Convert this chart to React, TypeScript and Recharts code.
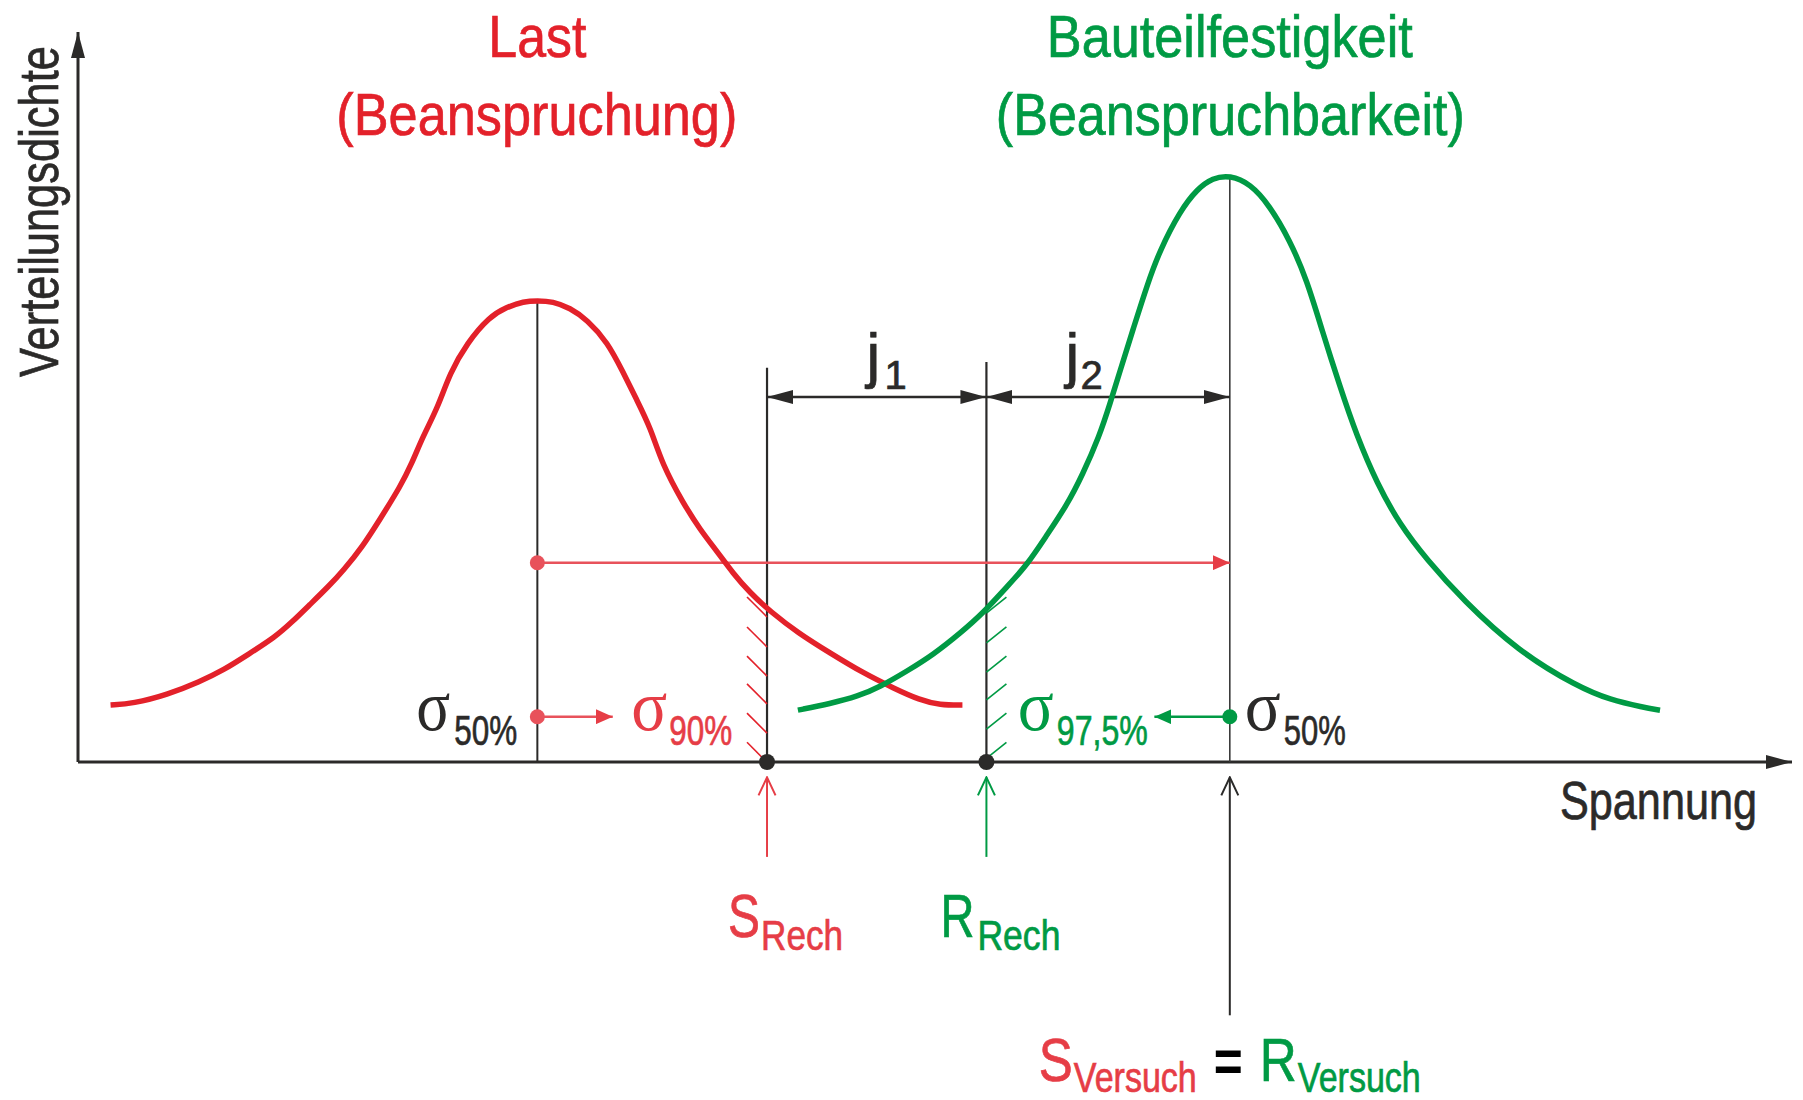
import React from 'react';
import { ComposedChart, Line, XAxis, YAxis, ReferenceLine, ReferenceDot } from 'recharts';

// canvas + calibration (px per unit, origin of the drawn axes)
const W = 1803;
const H = 1100;
const ORIGIN_X = 78;
const ORIGIN_Y = 762;
const XU = 17.14;
const YU = 7.3;
const X_DOMAIN = [-ORIGIN_X / XU, (W - ORIGIN_X) / XU];
const Y_DOMAIN = [-(H - ORIGIN_Y) / YU, ORIGIN_Y / YU];

// Last (Beanspruchung) density curve
const lastX = [1.9, 3.2, 5.2, 7.1, 8.5, 9.9, 11.5, 12.5, 13.5, 14.6, 15.5, 16.6, 17.6, 18.8, 19.5, 20.1, 21.0, 21.7, 22.7, 24.0, 25.0, 26.0, 26.8, 27.7, 28.7, 29.7, 30.9, 31.8, 32.6, 33.4, 34.1, 35.3, 36.3, 37.3, 38.2, 39.2, 40.4, 42.0, 43.9, 45.8, 47.6, 49.1, 50.3, 51.6];
const lastY = [7.8, 8.0, 9.2, 11.0, 12.6, 14.7, 17.1, 19.2, 21.5, 24.0, 26.3, 29.5, 33.2, 37.7, 41.0, 44.5, 48.6, 53.3, 57.4, 61.0, 62.3, 63.1, 63.2, 63.1, 62.2, 60.6, 57.5, 53.4, 49.6, 45.8, 40.7, 35.5, 31.8, 28.8, 25.9, 23.2, 20.6, 17.7, 14.9, 12.2, 10.1, 8.5, 7.8, 7.8];

// Bauteilfestigkeit (Beanspruchbarkeit) density curve
const strengthX = [42.0, 43.9, 45.5, 46.8, 48.4, 49.9, 51.5, 52.8, 54.2, 55.4, 56.5, 57.7, 58.6, 59.6, 60.2, 60.8, 61.6, 62.4, 63.1, 64.3, 65.3, 66.2, 67.2, 68.4, 69.5, 70.7, 71.7, 72.6, 73.6, 74.6, 75.8, 77.1, 78.7, 80.8, 84.0, 87.5, 89.4, 91.3, 92.3];
const strengthY = [7.1, 8.0, 9.0, 10.3, 12.5, 14.7, 17.7, 20.4, 24.0, 27.1, 31.0, 35.2, 39.3, 44.7, 49.0, 53.6, 59.6, 65.5, 70.0, 75.5, 78.5, 80.0, 80.4, 79.2, 76.3, 71.5, 66.0, 59.0, 51.6, 44.7, 38.1, 32.6, 27.7, 22.2, 15.2, 10.3, 8.5, 7.5, 7.1];

// characteristic values on the Spannung axis
const lastMedian = 26.8;
const strengthMedian = 67.2;
const sRech = 40.2;
const rRech = 53.0;
const sigma90Tip = 31.2;
const sigma975Tip = 62.8;

// annotation levels (density units)
const jLevel = 50;
const shiftLevel = 27.3;
const sigmaLevel = 6.2;
const sRechTop = 54.0;
const rRechTop = 54.8;
const belowTip = -2.1;
const belowFoot = -13.0;
const versuchFoot = -34.7;
const hatchLevels = [22.6, 18.5, 14.5, 10.7, 6.7, 2.7];

const lastData = lastX.map((x, i) => ({ x, y: lastY[i] }));
const strengthData = strengthX.map((x, i) => ({ x, y: strengthY[i] }));
const lastPeak = Math.max(...lastY);
const strengthPeak = Math.max(...strengthY);

const DARK = '#2b2a29';
const RED = '#e3212a';
const RED_L = '#e63d46';
const GREEN = '#009a44';

const SANS = "'Liberation Sans Narrow', 'Liberation Sans', Arial, sans-serif";
const SERIF = "'Liberation Serif', 'DejaVu Serif', serif";

type Piece = { t: string; dx: number; dy: number; size: number; color: string; w?: number; serif?: boolean; bold?: boolean; rot?: boolean };

const seg = (stroke: string, width: number, end?: string, start?: string) => (p: any) => (
  <line
    x1={p.x1}
    y1={p.y1}
    x2={p.x2}
    y2={p.y2}
    stroke={stroke}
    strokeWidth={width}
    markerEnd={end ? `url(#${end})` : undefined}
    markerStart={start ? `url(#${start})` : undefined}
  />
);

const texts = (pieces: Piece[]) => (p: any) => (
  <g>
    {pieces.map((pc, i) => {
      const x = p.cx + pc.dx;
      const y = p.cy + pc.dy;
      return (
        <text
          key={i}
          x={x}
          y={y}
          fontSize={pc.size}
          fill={pc.color}
          stroke={pc.serif ? 'none' : pc.color}
          strokeWidth={pc.bold ? 0 : 0.7}
          fontFamily={pc.serif ? SERIF : SANS}
          fontWeight={pc.bold ? 'bold' : 'normal'}
          textLength={pc.w}
          lengthAdjust={pc.w ? 'spacingAndGlyphs' : undefined}
          transform={pc.rot ? `rotate(-90 ${x} ${y})` : undefined}
        >
          {pc.t}
        </text>
      );
    })}
  </g>
);

const labels: { x: number; y: number; pieces: Piece[] }[] = [
  { x: lastMedian, y: Y_DOMAIN[1], pieces: [
    { t: 'Last', dx: -49, dy: 57, size: 60, color: RED, w: 98 },
    { t: '(Beanspruchung)', dx: -201, dy: 135, size: 60, color: RED, w: 401 },
  ] },
  { x: strengthMedian, y: Y_DOMAIN[1], pieces: [
    { t: 'Bauteilfestigkeit', dx: -183, dy: 57, size: 60, color: GREEN, w: 366 },
    { t: '(Beanspruchbarkeit)', dx: -234, dy: 135, size: 60, color: GREEN, w: 469 },
  ] },
  { x: 100, y: 0, pieces: [{ t: 'Spannung', dx: -232, dy: 57, size: 53, color: DARK, w: 197 }] },
  { x: 0, y: 100, pieces: [{ t: 'Verteilungsdichte', dx: -20, dy: 345, size: 55, color: DARK, w: 331, rot: true }] },
  { x: lastMedian, y: sigmaLevel, pieces: [
    { t: 'σ', dx: -121, dy: 13, size: 72, color: DARK, w: 34, serif: true },
    { t: '50%', dx: -83, dy: 28, size: 43, color: DARK, w: 63 },
    { t: 'σ', dx: 94, dy: 13, size: 72, color: RED_L, w: 36, serif: true },
    { t: '90%', dx: 132, dy: 28, size: 43, color: RED_L, w: 63 },
  ] },
  { x: strengthMedian, y: sigmaLevel, pieces: [
    { t: 'σ', dx: -212, dy: 13, size: 72, color: GREEN, w: 36, serif: true },
    { t: '97,5%', dx: -173, dy: 28, size: 43, color: GREEN, w: 91 },
    { t: 'σ', dx: 15, dy: 13, size: 72, color: DARK, w: 36, serif: true },
    { t: '50%', dx: 54, dy: 28, size: 43, color: DARK, w: 62 },
  ] },
  { x: rRech, y: jLevel, pieces: [
    { t: 'j', dx: -120, dy: -21, size: 62, color: DARK },
    { t: '1', dx: -102, dy: -8, size: 40, color: DARK },
    { t: 'j', dx: 79, dy: -21, size: 62, color: DARK },
    { t: '2', dx: 94, dy: -8, size: 40, color: DARK },
  ] },
  { x: sRech, y: 0, pieces: [
    { t: 'S', dx: -39, dy: 175, size: 62, color: RED_L, w: 32 },
    { t: 'Rech', dx: -6, dy: 188, size: 43, color: RED_L, w: 82 },
  ] },
  { x: rRech, y: 0, pieces: [
    { t: 'R', dx: -46, dy: 175, size: 62, color: GREEN, w: 34 },
    { t: 'Rech', dx: -9, dy: 188, size: 43, color: GREEN, w: 83 },
  ] },
  { x: strengthMedian, y: 0, pieces: [
    { t: 'S', dx: -191, dy: 319, size: 62, color: RED_L, w: 34 },
    { t: 'Versuch', dx: -156, dy: 330, size: 43, color: RED_L, w: 123 },
    { t: '=', dx: -16, dy: 319, size: 60, color: '#000', w: 29, bold: true },
    { t: 'R', dx: 30, dy: 319, size: 62, color: GREEN, w: 37 },
    { t: 'Versuch', dx: 68, dy: 330, size: 43, color: GREEN, w: 123 },
  ] },
];

const HATCH_DX = 20 / XU;
const HATCH_DY = 20 / YU;

function Markers() {
  return (
    <svg width={0} height={0} style={{ position: 'absolute' }}>
      <defs>
        <marker id="arBlack" viewBox="0 0 26 14" markerWidth={26} markerHeight={14} refX={26} refY={7} orient="auto-start-reverse" markerUnits="userSpaceOnUse">
          <path d="M0,0 L26,7 L0,14 z" fill={DARK} />
        </marker>
        <marker id="arRed" viewBox="0 0 17 15" markerWidth={17} markerHeight={15} refX={17} refY={7.5} orient="auto" markerUnits="userSpaceOnUse">
          <path d="M0,0 L17,7.5 L0,15 z" fill={RED_L} />
        </marker>
        <marker id="arGreen" viewBox="0 0 17 15" markerWidth={17} markerHeight={15} refX={17} refY={7.5} orient="auto" markerUnits="userSpaceOnUse">
          <path d="M0,0 L17,7.5 L0,15 z" fill={GREEN} />
        </marker>
        {[['chRed', RED_L], ['chGreen', GREEN], ['chBlack', DARK]].map(([id, c]) => (
          <marker key={id} id={id} viewBox="0 0 20 20" markerWidth={20} markerHeight={20} refX={19} refY={10} orient="auto" markerUnits="userSpaceOnUse">
            <path d="M1,1.5 L19,10 L1,18.5" fill="none" stroke={c} strokeWidth={2} />
          </marker>
        ))}
      </defs>
    </svg>
  );
}

export default function App() {
  return (
    <div style={{ position: 'absolute', left: 0, top: 0, width: W, height: H, background: '#fff' }}>
      <Markers />
      <ComposedChart width={W} height={H} margin={{ top: 0, right: 0, bottom: 0, left: 0 }}>
        <XAxis type="number" dataKey="x" domain={X_DOMAIN} hide allowDataOverflow />
        <YAxis type="number" dataKey="y" domain={Y_DOMAIN} hide allowDataOverflow />

        {/* axes */}
        <ReferenceLine segment={[{ x: 0, y: 0 }, { x: 100, y: 0 }]} shape={seg(DARK, 3, 'arBlack')} />
        <ReferenceLine segment={[{ x: 0, y: 0 }, { x: 0, y: 100 }]} shape={seg(DARK, 3, 'arBlack')} />

        {/* medians and design values */}
        <ReferenceLine segment={[{ x: lastMedian, y: 0 }, { x: lastMedian, y: lastPeak }]} shape={seg(DARK, 2)} />
        <ReferenceLine segment={[{ x: strengthMedian, y: 0 }, { x: strengthMedian, y: strengthPeak }]} shape={seg('#3a3a3a', 1.6)} />
        <ReferenceLine segment={[{ x: sRech, y: 0 }, { x: sRech, y: sRechTop }]} shape={seg(DARK, 2.2)} />
        <ReferenceLine segment={[{ x: rRech, y: 0 }, { x: rRech, y: rRechTop }]} shape={seg(DARK, 2.2)} />

        {/* hatching */}
        {hatchLevels.map((h) => (
          <ReferenceLine key={'hr' + h} segment={[{ x: sRech - HATCH_DX, y: h }, { x: sRech, y: h - HATCH_DY }]} shape={seg(RED, 1.6)} />
        ))}
        {hatchLevels.map((h) => (
          <ReferenceLine key={'hg' + h} segment={[{ x: rRech, y: h - HATCH_DY * 0.8 }, { x: rRech + HATCH_DX, y: h }]} shape={seg(GREEN, 1.6)} />
        ))}

        {/* j1, j2 */}
        <ReferenceLine segment={[{ x: sRech, y: jLevel }, { x: rRech, y: jLevel }]} shape={seg(DARK, 2.5, 'arBlack', 'arBlack')} />
        <ReferenceLine segment={[{ x: rRech, y: jLevel }, { x: strengthMedian, y: jLevel }]} shape={seg(DARK, 2.5, 'arBlack', 'arBlack')} />

        {/* shift arrows */}
        <ReferenceLine segment={[{ x: lastMedian, y: shiftLevel }, { x: strengthMedian, y: shiftLevel }]} shape={seg('#e8525b', 2.5, 'arRed')} />
        <ReferenceLine segment={[{ x: lastMedian, y: sigmaLevel }, { x: sigma90Tip, y: sigmaLevel }]} shape={seg('#e8525b', 2.5, 'arRed')} />
        <ReferenceLine segment={[{ x: strengthMedian, y: sigmaLevel }, { x: sigma975Tip, y: sigmaLevel }]} shape={seg(GREEN, 2.5, 'arGreen')} />

        {/* arrows below the axis */}
        <ReferenceLine segment={[{ x: sRech, y: belowFoot }, { x: sRech, y: belowTip }]} shape={seg(RED_L, 2, 'chRed')} />
        <ReferenceLine segment={[{ x: rRech, y: belowFoot }, { x: rRech, y: belowTip }]} shape={seg(GREEN, 2, 'chGreen')} />
        <ReferenceLine segment={[{ x: strengthMedian, y: versuchFoot }, { x: strengthMedian, y: belowTip }]} shape={seg(DARK, 2, 'chBlack')} />

        <Line data={lastData} dataKey="y" type="basis" stroke={RED} strokeWidth={5.5} dot={false} activeDot={false} isAnimationActive={false} />
        <Line data={strengthData} dataKey="y" type="basis" stroke={GREEN} strokeWidth={5.5} dot={false} activeDot={false} isAnimationActive={false} />

        <ReferenceDot x={lastMedian} y={shiftLevel} r={7.5} fill="#e8525b" stroke="none" />
        <ReferenceDot x={lastMedian} y={sigmaLevel} r={7.5} fill="#e8525b" stroke="none" />
        <ReferenceDot x={strengthMedian} y={sigmaLevel} r={7.5} fill={GREEN} stroke="none" />
        <ReferenceDot x={sRech} y={0} r={8} fill={DARK} stroke="none" />
        <ReferenceDot x={rRech} y={0} r={8} fill={DARK} stroke="none" />

        {labels.map((l, i) => (
          <ReferenceDot key={'lb' + i} x={l.x} y={l.y} r={0} ifOverflow="visible" shape={texts(l.pieces)} />
        ))}
      </ComposedChart>
    </div>
  );
}
